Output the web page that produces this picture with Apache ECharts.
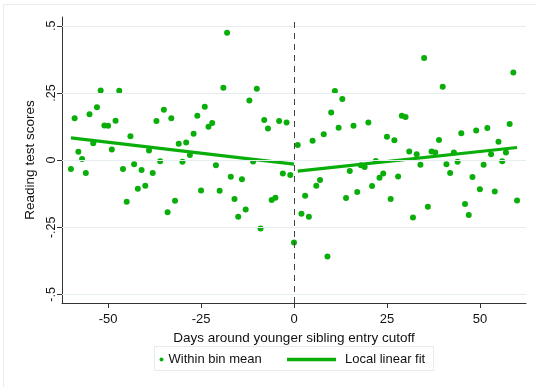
<!DOCTYPE html>
<html>
<head>
<meta charset="utf-8">
<script src="https://cdn.jsdelivr.net/npm/echarts@6/dist/echarts.min.js"></script>
<style>
html,body{margin:0;padding:0;background:#fff;}
#chart{width:536px;height:387px;}
</style>
</head>
<body>
<div id="chart"></div>
<script>
// ---- Data ----
const daysLeft = [-60,-59,-58,-57,-56,-55,-54,-53,-52,-51,-50,-49,-48,-47,-46,-45,-44,-43,-42,-41,-40,-39,-38,-37,-36,-35,-34,-33,-32,-31,-30,-29,-28,-27,-26,-25,-24,-23,-22,-21,-20,-19,-18,-17,-16,-15,-14,-13,-12,-11,-10,-9,-8,-7,-6,-5,-4,-3,-2,-1,0];
const meansLeft = [-0.033,0.156,0.031,0.004,-0.048,0.171,0.063,0.197,0.259,0.129,0.128,0.040,0.147,0.258,-0.033,-0.155,0.089,-0.015,-0.107,-0.037,-0.095,0.036,-0.048,0.146,-0.004,0.188,-0.194,0.156,-0.151,0.061,-0.006,0.066,0.019,0.098,0.165,-0.113,0.199,0.124,0.138,-0.019,-0.114,0.270,0.474,-0.062,-0.145,-0.211,-0.071,-0.184,0.222,-0.005,0.266,-0.255,0.149,0.118,-0.148,-0.140,0.146,-0.050,0.140,-0.055,-0.307];
const daysRight = [1,2,3,4,5,6,7,8,9,10,11,12,13,14,15,16,17,18,19,20,21,22,23,24,25,26,27,28,29,30,31,32,33,34,35,36,37,38,39,40,41,42,43,44,45,46,47,48,49,50,51,52,53,54,55,56,57,58,59,60];
const meansRight = [0.056,-0.200,-0.133,-0.211,0.072,-0.095,-0.074,0.096,-0.359,0.177,0.257,0.121,0.228,-0.141,-0.040,0.128,-0.119,-0.019,-0.026,0.140,-0.096,-0.003,-0.066,-0.050,0.087,-0.145,0.074,-0.061,0.165,0.161,0.032,-0.214,0.022,-0.017,0.380,-0.174,0.032,0.028,0.075,0.273,-0.015,-0.048,0.028,-0.006,0.100,-0.163,-0.204,-0.063,0.110,-0.108,-0.017,0.120,0.022,-0.117,0.068,-0.004,0.028,0.135,0.326,-0.150];
const fitLeftX = [-60, 0];
const fitLeftY = [0.083, -0.015];
const fitRightX = [1, 60];
const fitRightY = [-0.041, 0.047];
const xTicks = [-50, -25, 0, 25, 50];
const yTicks = [-0.5, -0.25, 0, 0.25, 0.5];
const cutoff = 0;

// ---- Chart ----
const GREEN = '#0aae0a';
const FONT = "'Liberation Sans', Arial, sans-serif";
const pts = daysLeft.map((d,i)=>[d, meansLeft[i]]).concat(daysRight.map((d,i)=>[d, meansRight[i]]));
const zip = (xs, ys) => xs.map((x,i)=>[x, ys[i]]);
const fmtY = v => v === 0 ? '0' : (v < 0 ? '-' : '') + String(Math.abs(v)).replace(/^0/, '');

const chart = echarts.init(document.getElementById('chart'), null, {renderer:'canvas'});
chart.setOption({
  animation: false,
  backgroundColor: '#fff',
  textStyle: {fontFamily: FONT},
  grid: {left: 62, right: 10, top: 17, bottom: 84},
  xAxis: {
    type: 'value', min: -62.4, max: 62.4,
    name: 'Days around younger sibling entry cutoff',
    nameLocation: 'middle', nameGap: 18,
    nameTextStyle: {fontSize: 13.5, color: '#111', fontFamily: FONT},
    axisLine: {show: true, onZero: false, lineStyle: {color: '#333', width: 1}},
    axisTick: {show: true, length: 5, customValues: xTicks, lineStyle: {color: '#333'}},
    axisLabel: {customValues: xTicks, fontSize: 13, color: '#111', margin: 10, fontFamily: FONT},
    splitLine: {show: false}
  },
  yAxis: {
    type: 'value', min: -0.532, max: 0.533,
    name: 'Reading test scores',
    nameLocation: 'middle', nameGap: 10, nameRotate: 90,
    nameTextStyle: {fontSize: 13.5, color: '#111', fontFamily: FONT},
    axisLine: {show: true, onZero: false, lineStyle: {color: '#333', width: 1}},
    axisTick: {show: true, length: 5, customValues: yTicks, lineStyle: {color: '#333'}},
    axisLabel: {customValues: yTicks, rotate: 90, fontSize: 12.5, color: '#111', margin: 4, formatter: fmtY, fontFamily: FONT},
    splitLine: {show: false}
  },
  legend: [
    {data: ['Within bin mean'], left: 159.5, top: 353, padding: 0, icon: 'circle',
     itemWidth: 4, itemHeight: 4, textStyle: {fontSize: 13, color: '#111', fontFamily: FONT}},
    {data: ['Local linear fit'], left: 287, top: 353, padding: 0, icon: 'rect',
     itemWidth: 49, itemHeight: 3.5, textStyle: {fontSize: 13, color: '#111', fontFamily: FONT, padding: [0,0,0,4]}}
  ],
  graphic: [
    {type: 'rect', silent: true, z: -10, shape: {x: 3.5, y: 4.5, width: 600, height: 500},
     style: {fill: 'none', stroke: '#e6edf0', lineWidth: 1}},
    {type: 'rect', silent: true, z: -10, shape: {x: 154.5, y: 346.5, width: 279, height: 24},
     style: {fill: 'none', stroke: '#e4ecef', lineWidth: 1}}
  ],
  series: [
    {
      type: 'scatter', name: '_grid', data: [], z: 1, silent: true,
      markLine: {
        silent: true, symbol: 'none', label: {show: false}, animation: false,
        lineStyle: {color: '#e6edf0', width: 1.2, type: 'solid'},
        data: yTicks.map(v => ({yAxis: v}))
      }
    },
    {
      type: 'scatter', name: '_cut', data: [], z: 2, silent: true,
      markLine: {
        silent: true, symbol: 'none', label: {show: false}, animation: false,
        lineStyle: {color: '#444', width: 1, type: [6, 5]},
        data: [{xAxis: cutoff}]
      }
    },
    {
      type: 'scatter', name: 'Within bin mean', data: pts, symbolSize: 6, z: 3,
      itemStyle: {color: GREEN, opacity: 1}
    },
    {
      type: 'line', name: 'Local linear fit', data: zip(fitLeftX, fitLeftY), showSymbol: false, symbol: 'none', z: 4,
      lineStyle: {color: GREEN, width: 3.2}, itemStyle: {color: GREEN}
    },
    {
      type: 'line', name: 'Local linear fit', data: zip(fitRightX, fitRightY), showSymbol: false, symbol: 'none', z: 4,
      lineStyle: {color: GREEN, width: 3.2}, itemStyle: {color: GREEN}
    }
  ]
});
</script>
</body>
</html>
